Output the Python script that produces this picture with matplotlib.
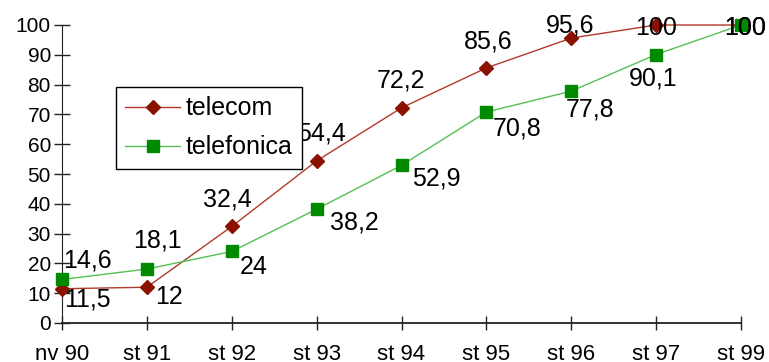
import matplotlib
matplotlib.use("Agg")
import matplotlib.pyplot as plt

plt.rcParams['font.family'] = ['Liberation Sans', 'DejaVu Sans']

categories = ["nv 90", "st 91", "st 92", "st 93", "st 94", "st 95", "st 96", "st 97", "st 99"]
telecom = [11.5, 12, 32.4, 54.4, 72.2, 85.6, 95.6, 100, 100]
telefonica = [14.6, 18.1, 24, 38.2, 52.9, 70.8, 77.8, 90.1, 100]
yticks = [0, 10, 20, 30, 40, 50, 60, 70, 80, 90, 100]

def fmt(v):
    s = ("%g" % v)
    return s.replace(".", ",")

# label offsets in pixels (dx, dy, ha)
tc_off = [(2, -11, 'left'), (8, -10, 'left'), (-4, 27, 'center'), (5, 27, 'center'),
          (0, 27, 'center'), (2, 26, 'center'), (-1, 13, 'center'), (0, -3, 'center'), (4, -3, 'center')]
tf_off = [(1, 19, 'left'), (11, 29, 'center'), (8, -16, 'left'), (13, -13, 'left'),
          (11, -13, 'left'), (6, -16, 'left'), (19, -18, 'center'), (-3, -24, 'center'), (4, -3, 'center')]

dpi = 100
fig = plt.figure(figsize=(7.69, 3.62), dpi=dpi)
ax = fig.add_axes([62/769, 39/362, 679/769, 298/362])

x = list(range(len(categories)))
ax.plot(x, telecom, color='#b23a2a', lw=1.0, marker='D', ms=6.8,
        mfc='#8b1200', mec='#8b1200', label='telecom', zorder=3, clip_on=False)
ax.plot(x, telefonica, color='#55c055', lw=1.0, marker='s', ms=8.5,
        mfc='#008a00', mec='#008a00', label='telefonica', zorder=3, clip_on=False)

px2pt = 72.0 / dpi
for i, v in enumerate(telecom):
    dx, dy, ha = tc_off[i]
    ax.annotate(fmt(v), (i, v), xytext=(dx*px2pt, dy*px2pt), textcoords='offset points',
                ha=ha, va='center', fontsize=18, color='black', zorder=5, annotation_clip=False)
for i, v in enumerate(telefonica):
    dx, dy, ha = tf_off[i]
    ax.annotate(fmt(v), (i, v), xytext=(dx*px2pt, dy*px2pt), textcoords='offset points',
                ha=ha, va='center', fontsize=18, color='black', zorder=5, annotation_clip=False)

ax.set_xlim(0, len(categories)-1)
ax.set_ylim(0, 100)
ax.set_xticks(x)
ax.set_xticklabels(categories, fontsize=16)
ax.set_yticks(yticks)
ax.set_yticklabels([str(t) for t in yticks], fontsize=15)
ax.tick_params(axis='x', direction='inout', length=10, width=1, pad=10, color='#222222')
ax.tick_params(axis='y', direction='inout', length=12, width=1, pad=2, color='#222222')
for s in ['top', 'right']:
    ax.spines[s].set_visible(False)
ax.spines['left'].set_color('#222222')
ax.spines['bottom'].set_color('#222222')
ax.spines['bottom'].set_linewidth(1.3)

leg = ax.legend(loc='upper left', bbox_to_anchor=(0.0795, 0.792), fontsize=18,
                frameon=True, fancybox=False, edgecolor='black', framealpha=1,
                handlelength=2.2, handletextpad=0.2, labelspacing=0.6,
                borderpad=0.38, borderaxespad=0)
leg.get_frame().set_linewidth(1.0)

fig.savefig('out.png', dpi=dpi)
